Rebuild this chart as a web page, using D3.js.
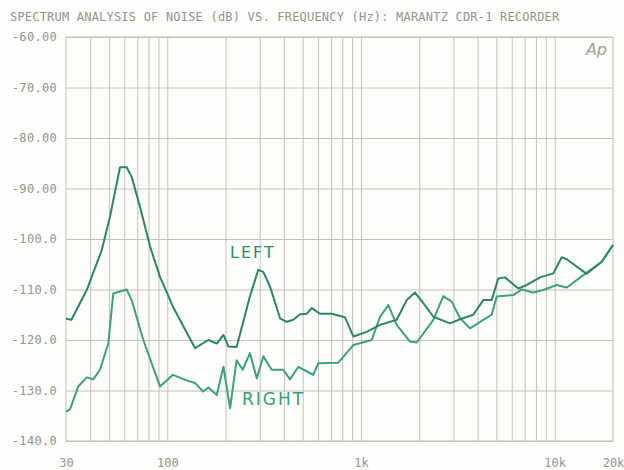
<!DOCTYPE html>
<html>
<head>
<meta charset="utf-8">
<script src="https://cdn.jsdelivr.net/npm/d3@7"></script>
<style>
  html, body { margin: 0; padding: 0; background: #fdfdfb; }
  svg { display: block; }
</style>
</head>
<body>
<svg id="chart"></svg>
<script>
// frequency (Hz) / level (dB)
const leftFreq = [30, 32, 38.4, 45.9, 50.6, 57, 61.7, 65.5, 72.3, 81.5, 91.7, 107, 139, 163, 180, 195, 207, 228, 267, 295, 313, 339, 382, 414, 447, 485, 525, 557, 614, 706, 827, 913, 1070, 1254, 1529, 1723, 1901, 2098, 2363, 2880, 3246, 3800, 4281, 4729, 5115, 5540, 6489, 7170, 8400, 9840, 10870, 11540, 14630, 17490, 20000];
const leftDb = [-115.8, -116.0, -110.1, -102.2, -95.6, -85.8, -85.8, -87.7, -93.6, -101.5, -107.5, -113.4, -121.6, -120.0, -120.7, -119.0, -121.3, -121.4, -111.4, -106.1, -106.5, -109.4, -115.7, -116.4, -116.0, -114.9, -114.8, -113.7, -114.8, -114.8, -115.5, -119.3, -118.4, -117.0, -116.0, -112.1, -110.6, -112.7, -115.4, -116.7, -115.9, -115.0, -112.1, -112.1, -107.8, -107.6, -109.8, -109.1, -107.6, -106.8, -103.6, -104.0, -106.9, -104.5, -101.2];

const rightFreq = [30, 31.5, 34.7, 38.4, 41.5, 44.9, 49.6, 52.6, 61.7, 65.5, 75.2, 91.7, 107, 126, 139, 153, 163, 180, 195, 211, 228, 245, 267, 290, 313, 346, 397, 430, 475, 567, 602, 764, 913, 1136, 1254, 1384, 1529, 1791, 1940, 2363, 2661, 2940, 3246, 3655, 4281, 4729, 5019, 6115, 6759, 7756, 8736, 10250, 11540, 14340, 17490, 20000];
const rightDb = [-134.2, -133.7, -129.2, -127.4, -127.8, -125.9, -120.7, -110.8, -110.0, -112.1, -120.0, -129.2, -126.9, -128.0, -128.5, -130.2, -129.4, -130.9, -125.3, -133.5, -124.0, -125.9, -122.6, -127.6, -123.2, -125.9, -125.9, -127.8, -125.3, -126.9, -124.6, -124.5, -121.0, -120.0, -115.4, -113.1, -117.0, -120.3, -120.5, -116.0, -111.3, -112.4, -115.7, -117.7, -116.0, -115.0, -111.4, -111.1, -110.0, -110.6, -110.1, -109.1, -109.6, -106.9, -104.5, -101.2];

const yTicks = [-60, -70, -80, -90, -100, -110, -120, -130, -140];
const yTickLabels = ['-60.00', '-70.00', '-80.00', '-90.00', '-100.0', '-110.0', '-120.0', '-130.0', '-140.0'];
const xTicks = [30, 100, 1000, 10000, 20000];
const xTickLabels = ['30', '100', '1k', '10k', '20k'];
const gridFreqs = [40, 50, 60, 70, 80, 90, 100, 200, 300, 400, 500, 600, 700, 800, 900, 1000, 2000, 3000, 4000, 5000, 6000, 7000, 8000, 9000, 10000];

const title = 'SPECTRUM ANALYSIS OF NOISE (dB) VS. FREQUENCY (Hz): MARANTZ CDR-1 RECORDER';

const W = 624, H = 470;
const margin = { top: 37, right: 11, bottom: 29, left: 66 };
const width = W - margin.left - margin.right;
const height = H - margin.top - margin.bottom;

const svg = d3.select('#chart').attr('width', W).attr('height', H);

const x = d3.scaleLog().domain([30, 20000]).range([0, width]);
const y = d3.scaleLinear().domain([-140, -60]).range([height, 0]);

const g = svg.append('g').attr('transform', `translate(${margin.left},${margin.top})`);

const gridColor = '#c2c2b9';
const textColor = '#94948b';

// vertical grid
g.append('g')
  .attr('transform', `translate(0,${height})`)
  .call(d3.axisBottom(x).tickValues(gridFreqs).tickSize(-height).tickFormat(''))
  .call(a => a.select('.domain').remove())
  .call(a => a.selectAll('line').attr('stroke', gridColor).attr('stroke-width', 1));

// horizontal grid
g.append('g')
  .call(d3.axisLeft(y).tickValues(yTicks).tickSize(-width).tickFormat(''))
  .call(a => a.select('.domain').remove())
  .call(a => a.selectAll('line').attr('stroke', gridColor).attr('stroke-width', 1));

// frame
g.append('rect')
  .attr('x', 0).attr('y', 0).attr('width', width).attr('height', height)
  .attr('fill', 'none').attr('stroke', gridColor).attr('stroke-width', 1);

// y labels
g.append('g')
  .call(d3.axisLeft(y).tickValues(yTicks).tickSize(0).tickPadding(9)
    .tickFormat((d, i) => yTickLabels[i]))
  .call(a => a.select('.domain').remove())
  .call(a => a.selectAll('text')
    .attr('fill', textColor)
    .style('font-family', '"DejaVu Sans Mono", monospace')
    .style('font-size', '12px')
    .style('letter-spacing', '0.3px'));

// x labels
g.append('g')
  .attr('transform', `translate(0,${height})`)
  .call(d3.axisBottom(x).tickValues(xTicks).tickSize(0).tickPadding(17)
    .tickFormat((d, i) => xTickLabels[i]))
  .call(a => a.select('.domain').remove())
  .call(a => a.selectAll('text')
    .attr('fill', textColor)
    .style('font-family', '"DejaVu Sans Mono", monospace')
    .style('font-size', '12px'));

// curves
const line = d3.line().x(d => x(d[0])).y(d => y(d[1]));
const leftData = leftFreq.map((f, i) => [f, leftDb[i]]);
const rightData = rightFreq.map((f, i) => [f, rightDb[i]]);

g.append('path').datum(rightData)
  .attr('d', line)
  .attr('fill', 'none')
  .attr('stroke', '#3f9f7b')
  .attr('stroke-width', 2)
  .attr('stroke-linejoin', 'round');

g.append('path').datum(leftData)
  .attr('d', line)
  .attr('fill', 'none')
  .attr('stroke', '#2f8465')
  .attr('stroke-width', 2)
  .attr('stroke-linejoin', 'round');

// curve labels
g.append('text')
  .attr('x', x(211)).attr('y', y(-103.8))
  .attr('fill', '#2f8a68')
  .style('font-family', '"DejaVu Sans", sans-serif')
  .style('font-size', '16px')
  .style('letter-spacing', '2px')
  .text('LEFT');

g.append('text')
  .attr('x', x(243)).attr('y', y(-132.9))
  .attr('fill', '#3a9c77')
  .style('font-family', '"DejaVu Sans", sans-serif')
  .style('font-size', '17px')
  .style('letter-spacing', '2px')
  .text('RIGHT');

// Ap logo
g.append('text')
  .attr('x', width - 6).attr('y', 18)
  .attr('text-anchor', 'end')
  .attr('fill', '#a0a09a')
  .style('font-family', '"DejaVu Sans", sans-serif')
  .style('font-style', 'italic')
  .style('font-weight', '300')
  .style('font-size', '16px')
  .text('Ap');

// title
svg.append('text')
  .attr('x', 10).attr('y', 21)
  .attr('fill', textColor)
  .style('font-family', '"DejaVu Sans Mono", monospace')
  .style('font-size', '12px')
  .style('letter-spacing', '0.2px')
  .text(title);
</script>
</body>
</html>
